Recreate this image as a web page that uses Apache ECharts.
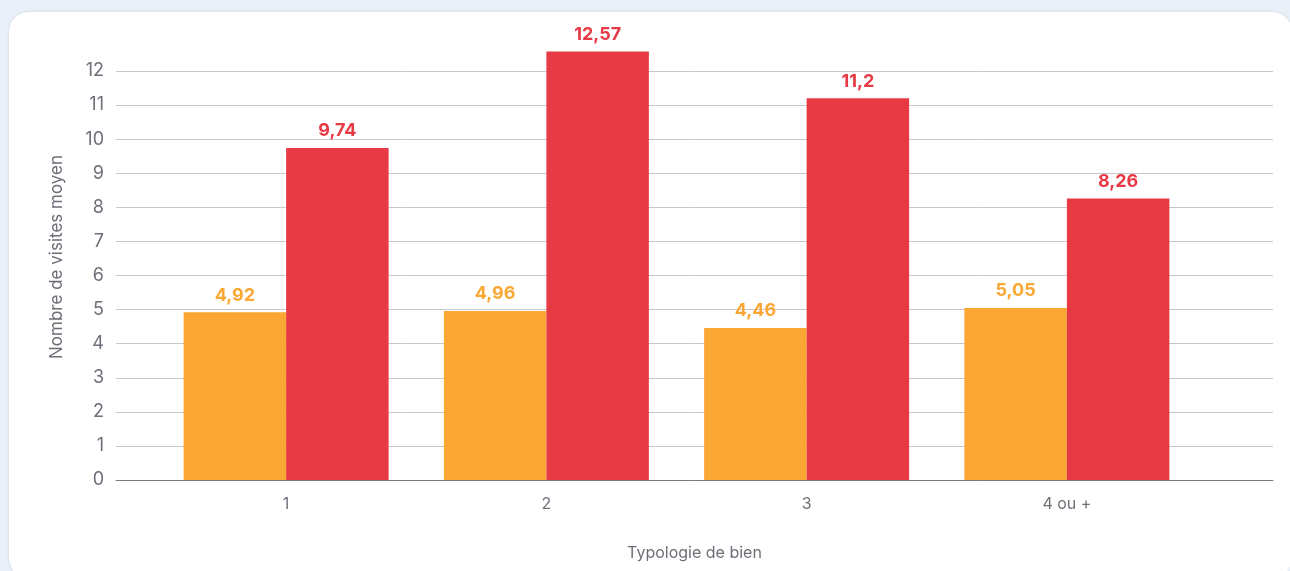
<!DOCTYPE html>
<html>
<head>
    <meta charset="UTF-8" />
    <title>Nombre de visites moyen</title>
    <script src="https://cdn.jsdelivr.net/npm/echarts@6/dist/echarts.min.js"></script>
    <style>
        html, body { margin: 0; height: 100%; background: #e9f0f7; overflow: hidden; }
        #card {
            position: absolute; left: 9px; top: 12px; width: 1283px; height: 566px;
            background: #fff; border-radius: 20px; box-shadow: 0 0 3px rgba(120, 140, 170, 0.25);
        }
        #main { position: absolute; left: 0; top: 0; width: 1290px; height: 571px; }
    </style>
</head>
<body>
    <div id="card"></div>
    <div id="main"></div>
    <script type="text/javascript">
        // données
        var categories = ['1', '2', '3', '4 ou +'];
        var serieOrange = [4.92, 4.96, 4.46, 5.05];
        var serieRouge = [9.74, 12.57, 11.2, 8.26];
        var yTicks = { min: 0, max: 12, step: 1 };

        var myChart = echarts.init(document.getElementById('main'));
        var font = 'Inter, "Noto Sans", sans-serif';
        var gris = '#6e6e78';

        function fmt(p) {
            return String(p.value).replace('.', ',');
        }

        var option = {
            animation: false,
            textStyle: { fontFamily: font },
            grid: [
                // grille de fond (lignes + axe y)
                { left: 116, right: 17, top: 71, bottom: 91 },
                // grille des barres
                { left: 156, width: 1041, top: 71, bottom: 91 }
            ],
            xAxis: [
                {
                    gridIndex: 0, type: 'category', data: categories,
                    axisLine: { lineStyle: { color: '#7a7a80', width: 1 } },
                    axisTick: { show: false }, axisLabel: { show: false },
                    name: 'Typologie de bien', nameLocation: 'middle', nameGap: 65,
                    nameTextStyle: { color: gris, fontSize: 16, fontFamily: font }
                },
                {
                    gridIndex: 1, type: 'category', data: categories,
                    axisLine: { show: false }, axisTick: { show: false },
                    axisLabel: { color: gris, fontSize: 16, margin: 16, fontFamily: font }
                }
            ],
            yAxis: [
                {
                    gridIndex: 0, type: 'value', min: yTicks.min, max: yTicks.max, interval: yTicks.step,
                    axisLabel: { color: gris, fontSize: 18, margin: 12, fontFamily: font },
                    splitLine: { lineStyle: { color: '#c8c8cc', width: 1 } },
                    axisLine: { show: false }, axisTick: { show: false }
                },
                {
                    gridIndex: 1, type: 'value', min: yTicks.min, max: yTicks.max, interval: yTicks.step,
                    show: false
                }
            ],
            graphic: [{
                type: 'text', left: 48, top: 155, rotation: Math.PI / 2,
                style: { text: 'Nombre de visites moyen', fill: gris, font: '17px ' + font }
            }],
            series: [
                {
                    type: 'bar', xAxisIndex: 1, yAxisIndex: 1, data: serieOrange,
                    barWidth: 102.5, barGap: '0%', clip: false,
                    itemStyle: { color: '#fba733' },
                    label: {
                        show: true, position: 'top', distance: 8, formatter: fmt,
                        color: '#fba733', fontSize: 18, fontWeight: 'bold', fontFamily: font
                    }
                },
                {
                    type: 'bar', xAxisIndex: 1, yAxisIndex: 1, data: serieRouge,
                    barWidth: 102.5, barGap: '0%', clip: false,
                    itemStyle: { color: '#e83a45' },
                    label: {
                        show: true, position: 'top', distance: 8, formatter: fmt,
                        color: '#e83a45', fontSize: 18, fontWeight: 'bold', fontFamily: font
                    }
                }
            ]
        };

        myChart.setOption(option);
    </script>
</body>
</html>
